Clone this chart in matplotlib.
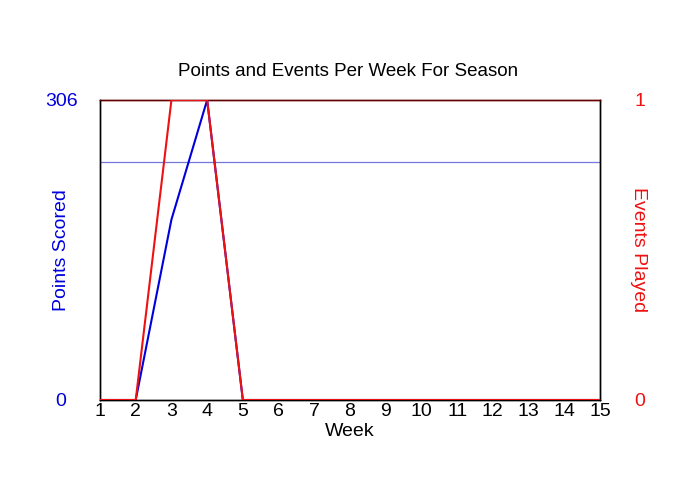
import matplotlib
matplotlib.use("Agg")
import matplotlib.pyplot as plt

weeks = list(range(1, 16))
points = [0, 0, 184, 306, 0, 0, 0, 0, 0, 0, 0, 0, 0, 0, 0]
events = [0, 0, 1, 1, 0, 0, 0, 0, 0, 0, 0, 0, 0, 0, 0]
ref_points = 243

plt.rcParams['font.family'] = ['Liberation Sans', 'DejaVu Sans']

fig = plt.figure(figsize=(7, 5), dpi=100)
ax = fig.add_axes([100/700, 100/500, 500/700, 300/500])
ax2 = ax.twinx()

ax.plot(weeks, points, color='#0000dd', lw=1.5, zorder=3)
ax.axhline(ref_points, color='#7777dd', lw=0.9, zorder=2)
ax2.plot(weeks, events, color='#ee1111', lw=1.5, zorder=4)

ax.set_xlim(1, 15)
ax.set_ylim(0, 306)
ax2.set_ylim(0, 1)
ax.set_xticks(weeks)
ax.set_yticks([0, 306])
ax2.set_yticks([0, 1])

ax.tick_params(axis='x', length=0, pad=2, labelsize=14)
ax.tick_params(axis='y', length=0, pad=28, labelsize=14, labelcolor='#0000dd')
ax2.tick_params(axis='y', length=0, pad=28.8, labelsize=14, labelcolor='#ee1111')
for t in ax.get_yticklabels() + ax2.get_yticklabels():
    t.set_horizontalalignment('center')

fig.text(350/700, 1 - 432/500, 'Week', fontsize=14, ha='center', va='center')
fig.text(61/700, 0.5, 'Points Scored', fontsize=14, color='#0000dd',
         rotation=90, ha='center', va='center')
fig.text(639/700, 0.5, 'Events Played', fontsize=14, color='#ee1111',
         rotation=270, ha='center', va='center')
fig.text(348/700, 1 - 72/500, 'Points and Events Per Week For Season',
         fontsize=13.5, ha='center', va='center')

for a in (ax, ax2):
    for s in a.spines.values():
        s.set_color('black')
        s.set_linewidth(1)
        s.set_zorder(2.5)
    a.spines['top'].set_color('#660000')

fig.savefig('out.png', dpi=100)
